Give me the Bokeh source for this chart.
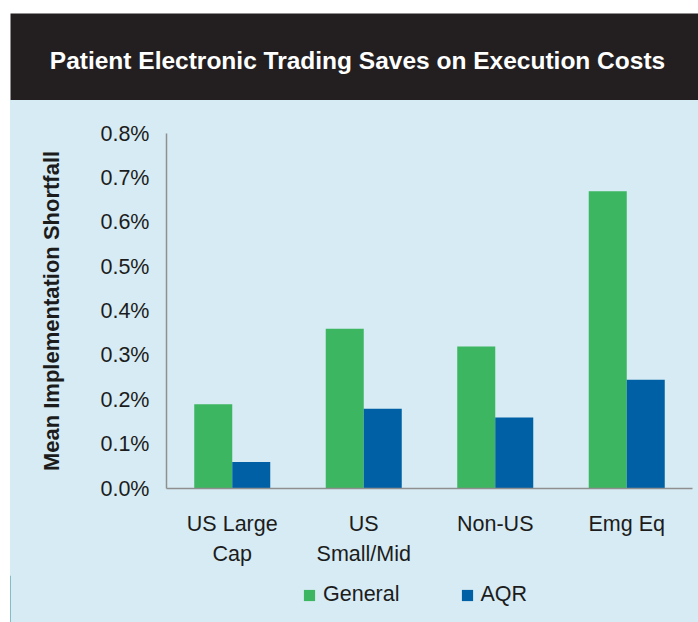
from bokeh.plotting import figure
from bokeh.models import (ColumnDataSource, Range1d, FactorRange, Label, Legend,
                          PrintfTickFormatter, FixedTicker, Spacer)
from bokeh.layouts import column, row
from bokeh.transform import dodge
from bokeh.embed import file_html
from bokeh.resources import INLINE

# ---- data ----
categories = ["US Large\nCap", "US\nSmall/Mid", "Non-US", "Emg Eq"]
general = [0.19, 0.36, 0.32, 0.67]
aqr = [0.06, 0.18, 0.16, 0.245]
y_ticks = [0.0, 0.1, 0.2, 0.3, 0.4, 0.5, 0.6, 0.7, 0.8]
title_text = "Patient Electronic Trading Saves on Execution Costs"
y_label = "Mean Implementation Shortfall"
series_names = ["General", "AQR"]

# ---- styles ----
DARK = "#231f20"
LIGHT = "#d6ebf3"
GREEN = "#3cb661"
BLUE = "#0060a5"
AXIS = "#8f8f8f"
FONT = "Liberation Sans"
TEXT = "#1c1c1c"

# ---- title bar ----
tp = figure(width=698, height=100, x_range=Range1d(0, 688), y_range=Range1d(0, 87),
            x_axis_type=None, y_axis_type=None, toolbar_location=None,
            output_backend="svg", min_border_top=13, min_border_left=10,
            min_border_right=0, min_border_bottom=0)
tp.background_fill_color = DARK
tp.border_fill_color = "white"
tp.outline_line_color = None
tp.add_layout(Label(x=347, y=40, text=title_text, text_align="center",
                    text_baseline="alphabetic", text_color="white",
                    text_font=FONT, text_font_style="bold",
                    text_font_size="24.5px"))

# ---- chart ----
src = ColumnDataSource(dict(cat=categories, general=general, aqr=aqr))

p = figure(width=688, height=475, x_range=FactorRange(*categories),
           y_range=Range1d(0, 0.8), toolbar_location=None, output_backend="svg",
           min_border_left=156, min_border_right=6, min_border_top=33,
           min_border_bottom=87, styles={"background-color": LIGHT})
p.background_fill_color = LIGHT
p.border_fill_color = LIGHT
p.outline_line_color = None
p.grid.visible = False
p.x_range.range_padding = 0

bw = 0.289
r1 = p.vbar(x=dodge("cat", -bw / 2, range=p.x_range), top="general", width=bw,
            source=src, fill_color=GREEN, line_color=None)
r2 = p.vbar(x=dodge("cat", bw / 2, range=p.x_range), top="aqr", width=bw,
            source=src, fill_color=BLUE, line_color=None)

for ax in (p.xaxis[0], p.yaxis[0]):
    ax.axis_line_color = AXIS
    ax.axis_line_width = 1.5
    ax.major_tick_line_color = None
    ax.minor_tick_line_color = None
    ax.major_label_text_font = FONT
    ax.major_label_text_font_size = "21.5px"
    ax.major_label_text_color = TEXT

p.yaxis.ticker = FixedTicker(ticks=y_ticks)
p.yaxis.formatter = PrintfTickFormatter(format="%.1f%%")
p.yaxis.major_label_standoff = 11
p.yaxis.axis_label = y_label
p.yaxis.axis_label_standoff = 33
p.yaxis.axis_label_text_font = FONT
p.yaxis.axis_label_text_font_style = "bold"
p.yaxis.axis_label_text_font_size = "22px"
p.yaxis.axis_label_text_color = TEXT
p.xaxis.major_label_standoff = 17
p.xaxis.major_label_text_line_height = 1.25

# ---- legend strip ----
lg = figure(width=688, height=47, x_range=Range1d(0, 1), y_range=Range1d(0, 1),
            x_axis_type=None, y_axis_type=None, toolbar_location=None,
            output_backend="svg", min_border=0, styles={"background-color": LIGHT})
lg.background_fill_color = LIGHT
lg.border_fill_color = LIGHT
lg.outline_line_color = None
# swatch renderers sit outside the visible range; only their legend glyphs show
swatch = ColumnDataSource(dict(x=[-10], top=[1]))
g1 = lg.vbar(x="x", top="top", width=0.1, source=swatch, fill_color=GREEN, line_color=None)
g2 = lg.vbar(x="x", top="top", width=0.1, source=swatch, fill_color=BLUE, line_color=None)
legend = Legend(items=[(series_names[0], [g1]), (series_names[1], [g2])],
                orientation="horizontal", location=(292, 15),
                padding=0, margin=0, spacing=60, label_standoff=7,
                glyph_width=14, glyph_height=14, label_height=14,
                label_text_font=FONT, label_text_font_size="21.5px",
                label_text_color=TEXT, border_line_color=None,
                background_fill_alpha=0)
lg.add_layout(legend, "center")

layout = column(tp,
                row(Spacer(width=10, height=475), p, spacing=0),
                row(Spacer(width=10, height=47), lg, spacing=0),
                spacing=0)

open("out.html", "w").write(file_html(layout, INLINE))
